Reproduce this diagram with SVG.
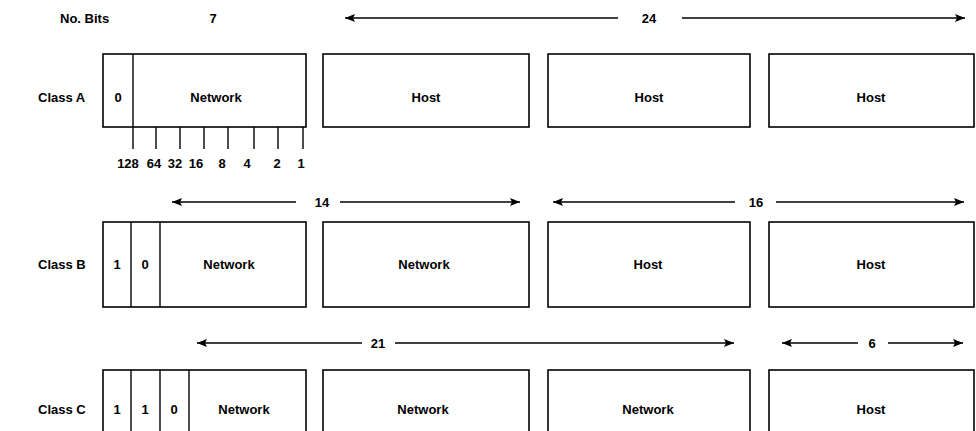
<svg xmlns="http://www.w3.org/2000/svg" width="976" height="431" viewBox="0 0 976 431">
<defs>
<marker id="ah" viewBox="0 0 10 8" refX="10" refY="4" markerWidth="10" markerHeight="8" markerUnits="userSpaceOnUse" orient="auto">
<path d="M0,0 L10,4 L0,8 L2,4 Z" fill="#000"/>
</marker>
<style>
text{font-family:"Liberation Sans",Arial,sans-serif;font-size:13px;font-weight:bold;fill:#000}
.c{text-anchor:middle}
.box{fill:#fff;stroke:#000;stroke-width:1.6}
.div{stroke:#000;stroke-width:1.4}
.arr{stroke:#000;stroke-width:1.5;fill:none}
.arr2{stroke:#000;stroke-width:1.5;fill:none;marker-end:url(#ah)}
</style>
</defs>
<rect width="976" height="431" fill="#fff"/>

<g id="header">
<text x="60" y="23">No. Bits</text>
<text class="c" x="213" y="23">7</text>
<text class="c" x="649" y="23">24</text>
</g>

<g id="connectors">
<line class="arr2" x1="618" y1="18" x2="345" y2="18"/>
<line class="arr2" x1="682" y1="18" x2="965" y2="18"/>
<line class="arr2" x1="296" y1="202" x2="172" y2="202"/>
<line class="arr2" x1="340" y1="202" x2="520" y2="202"/>
<line class="arr2" x1="735" y1="202" x2="553" y2="202"/>
<line class="arr2" x1="776" y1="202" x2="964" y2="202"/>
<line class="arr2" x1="362" y1="343" x2="197" y2="343"/>
<line class="arr2" x1="395" y1="343" x2="734" y2="343"/>
<line class="arr2" x1="858" y1="343" x2="782" y2="343"/>
<line class="arr2" x1="888" y1="343" x2="963" y2="343"/>
<line class="div" x1="133" y1="127" x2="133" y2="149"/>
<line class="div" x1="156" y1="127" x2="156" y2="149"/>
<line class="div" x1="180" y1="127" x2="180" y2="149"/>
<line class="div" x1="204" y1="127" x2="204" y2="149"/>
<line class="div" x1="228" y1="127" x2="228" y2="149"/>
<line class="div" x1="254" y1="127" x2="254" y2="149"/>
<line class="div" x1="278" y1="127" x2="278" y2="149"/>
<line class="div" x1="303" y1="127" x2="303" y2="149"/>
</g>

<g id="labels">
<text class="c" x="322" y="207">14</text>
<text class="c" x="756" y="207">16</text>
<text class="c" x="378" y="348">21</text>
<text class="c" x="872" y="348">6</text>
<text x="38" y="102">Class A</text>
<text x="38" y="269">Class B</text>
<text x="38" y="414">Class C</text>
<text class="c" x="128" y="168">128</text>
<text class="c" x="154" y="168">64</text>
<text class="c" x="175" y="168">32</text>
<text class="c" x="196" y="168">16</text>
<text class="c" x="222" y="168">8</text>
<text class="c" x="247" y="168">4</text>
<text class="c" x="277" y="168">2</text>
<text class="c" x="301" y="168">1</text>
</g>

<g id="a1">
<rect class="box" x="103" y="54" width="203" height="73"/>
<line class="div" x1="133" y1="54" x2="133" y2="127"/>
<text class="c" x="118" y="102">0</text>
<text class="c" x="216" y="102">Network</text>
</g>
<g id="a2"><rect class="box" x="323" y="54" width="206" height="73"/><text class="c" x="426" y="102">Host</text></g>
<g id="a3"><rect class="box" x="548" y="54" width="202" height="73"/><text class="c" x="649" y="102">Host</text></g>
<g id="a4"><rect class="box" x="769" y="54" width="205" height="73"/><text class="c" x="871" y="102">Host</text></g>

<g id="b1">
<rect class="box" x="103" y="222" width="203" height="85"/>
<line class="div" x1="131" y1="222" x2="131" y2="307"/>
<line class="div" x1="160" y1="222" x2="160" y2="307"/>
<text class="c" x="117" y="269">1</text>
<text class="c" x="145" y="269">0</text>
<text class="c" x="229" y="269">Network</text>
</g>
<g id="b2"><rect class="box" x="323" y="222" width="206" height="85"/><text class="c" x="424" y="269">Network</text></g>
<g id="b3"><rect class="box" x="548" y="222" width="202" height="85"/><text class="c" x="648" y="269">Host</text></g>
<g id="b4"><rect class="box" x="769" y="222" width="205" height="85"/><text class="c" x="871" y="269">Host</text></g>

<g id="c1">
<rect class="box" x="103" y="370" width="203" height="85"/>
<line class="div" x1="131" y1="370" x2="131" y2="455"/>
<line class="div" x1="160" y1="370" x2="160" y2="455"/>
<line class="div" x1="189" y1="370" x2="189" y2="455"/>
<text class="c" x="117" y="414">1</text>
<text class="c" x="145" y="414">1</text>
<text class="c" x="174" y="414">0</text>
<text class="c" x="244" y="414">Network</text>
</g>
<g id="c2"><rect class="box" x="323" y="370" width="206" height="85"/><text class="c" x="423" y="414">Network</text></g>
<g id="c3"><rect class="box" x="548" y="370" width="202" height="85"/><text class="c" x="648" y="414">Network</text></g>
<g id="c4"><rect class="box" x="769" y="370" width="205" height="85"/><text class="c" x="871" y="414">Host</text></g>
</svg>
